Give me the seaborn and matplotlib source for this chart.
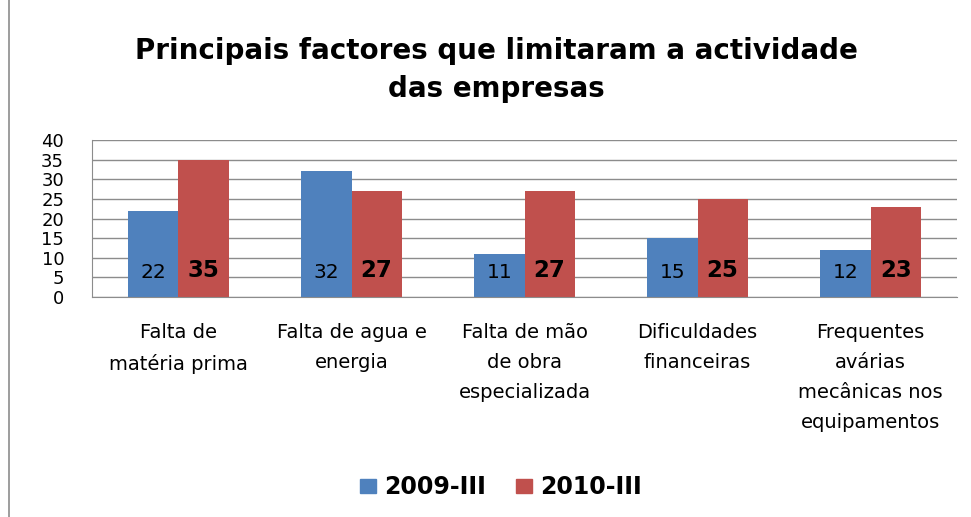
import numpy as np
import pandas as pd
import matplotlib
matplotlib.use("Agg")
import matplotlib.pyplot as plt
import seaborn as sns
from matplotlib.patches import Rectangle
from matplotlib.lines import Line2D
from matplotlib.ticker import FixedLocator

# dados do gráfico
categorias = ["Falta de\nmatéria prima", "Falta de agua e\nenergia",
              "Falta de mão\nde obra\nespecializada", "Dificuldades\nfinanceiras",
              "Frequentes\navárias\nmecânicas nos\nequipamentos"]
series = ["2009-III", "2010-III"]
valores_2009 = [22, 32, 11, 15, 12]
valores_2010 = [35, 27, 27, 25, 23]
cores = ["#4F81BD", "#C0504D"]

df = pd.DataFrame({
    "categoria": categorias * 2,
    "periodo": [series[0]] * 5 + [series[1]] * 5,
    "valor": valores_2009 + valores_2010,
})

sns.set_style("white")
plt.rcParams["font.family"] = ["DejaVu Sans"]
plt.rcParams["text.color"] = "black"

fig = plt.figure(figsize=(9.71, 5.17), dpi=100)
ax = fig.add_axes([0.0947, 0.4255, 0.891, 0.3035])

sns.barplot(data=df, x="categoria", y="valor", hue="periodo", palette=cores,
            width=0.58, gap=0, saturation=1, linewidth=0, ax=ax, legend=True)

ax.set_ylim(0, 40)
ax.set_xlim(-0.5, 4.5)
ax.set_yticks(range(0, 41, 5))
ax.yaxis.grid(True, color="#8c8c8c", linewidth=1)
ax.set_axisbelow(True)
for s in ["top", "right"]:
    ax.spines[s].set_visible(False)
ax.spines["left"].set_color("#8c8c8c")
ax.spines["bottom"].set_color("#8c8c8c")
ax.tick_params(axis="y", which="major", length=8, color="#8c8c8c", labelsize=13,
               pad=12, labelcolor="black")
ax.tick_params(axis="x", which="major", length=0, labelsize=14, pad=19, labelcolor="black")
ax.xaxis.set_minor_locator(FixedLocator(np.arange(-0.5, 5, 1)))
ax.tick_params(axis="x", which="minor", length=9, color="#8c8c8c")
ax.set_xlabel("")
ax.set_ylabel("")
for lbl in ax.get_xticklabels():
    lbl.set_linespacing(1.72)

# rótulos dos valores
for i, cont in enumerate(ax.containers):
    for bar, v in zip(cont, [valores_2009, valores_2010][i]):
        ax.text(bar.get_x() + bar.get_width() / 2, 6.3 if i == 0 else 6.8, str(v),
                ha="center", va="center",
                fontsize=14.5 if i == 0 else 16.5, fontweight="normal" if i == 0 else "bold",
                color="black")

ax.legend_.remove()
handles = [Rectangle((0, 0), 1, 1, color=c) for c in cores]
fig.legend(handles, series, loc="center", bbox_to_anchor=(0.516, 0.058), ncol=2, frameon=False,
           prop={"weight": "bold", "size": 17}, handlelength=0.65, handleheight=0.55,
           columnspacing=1.3, handletextpad=0.35)

fig.text(0.511, 0.865, "Principais factores que limitaram a actividade\ndas empresas",
         ha="center", va="center", fontsize=20, fontweight="bold", linespacing=1.45,
         color="black")

fig.lines.append(Line2D([0.009, 0.009], [0, 1], transform=fig.transFigure,
                        color="#8c8c8c", linewidth=1.2))

fig.savefig("out.png", dpi=100)
